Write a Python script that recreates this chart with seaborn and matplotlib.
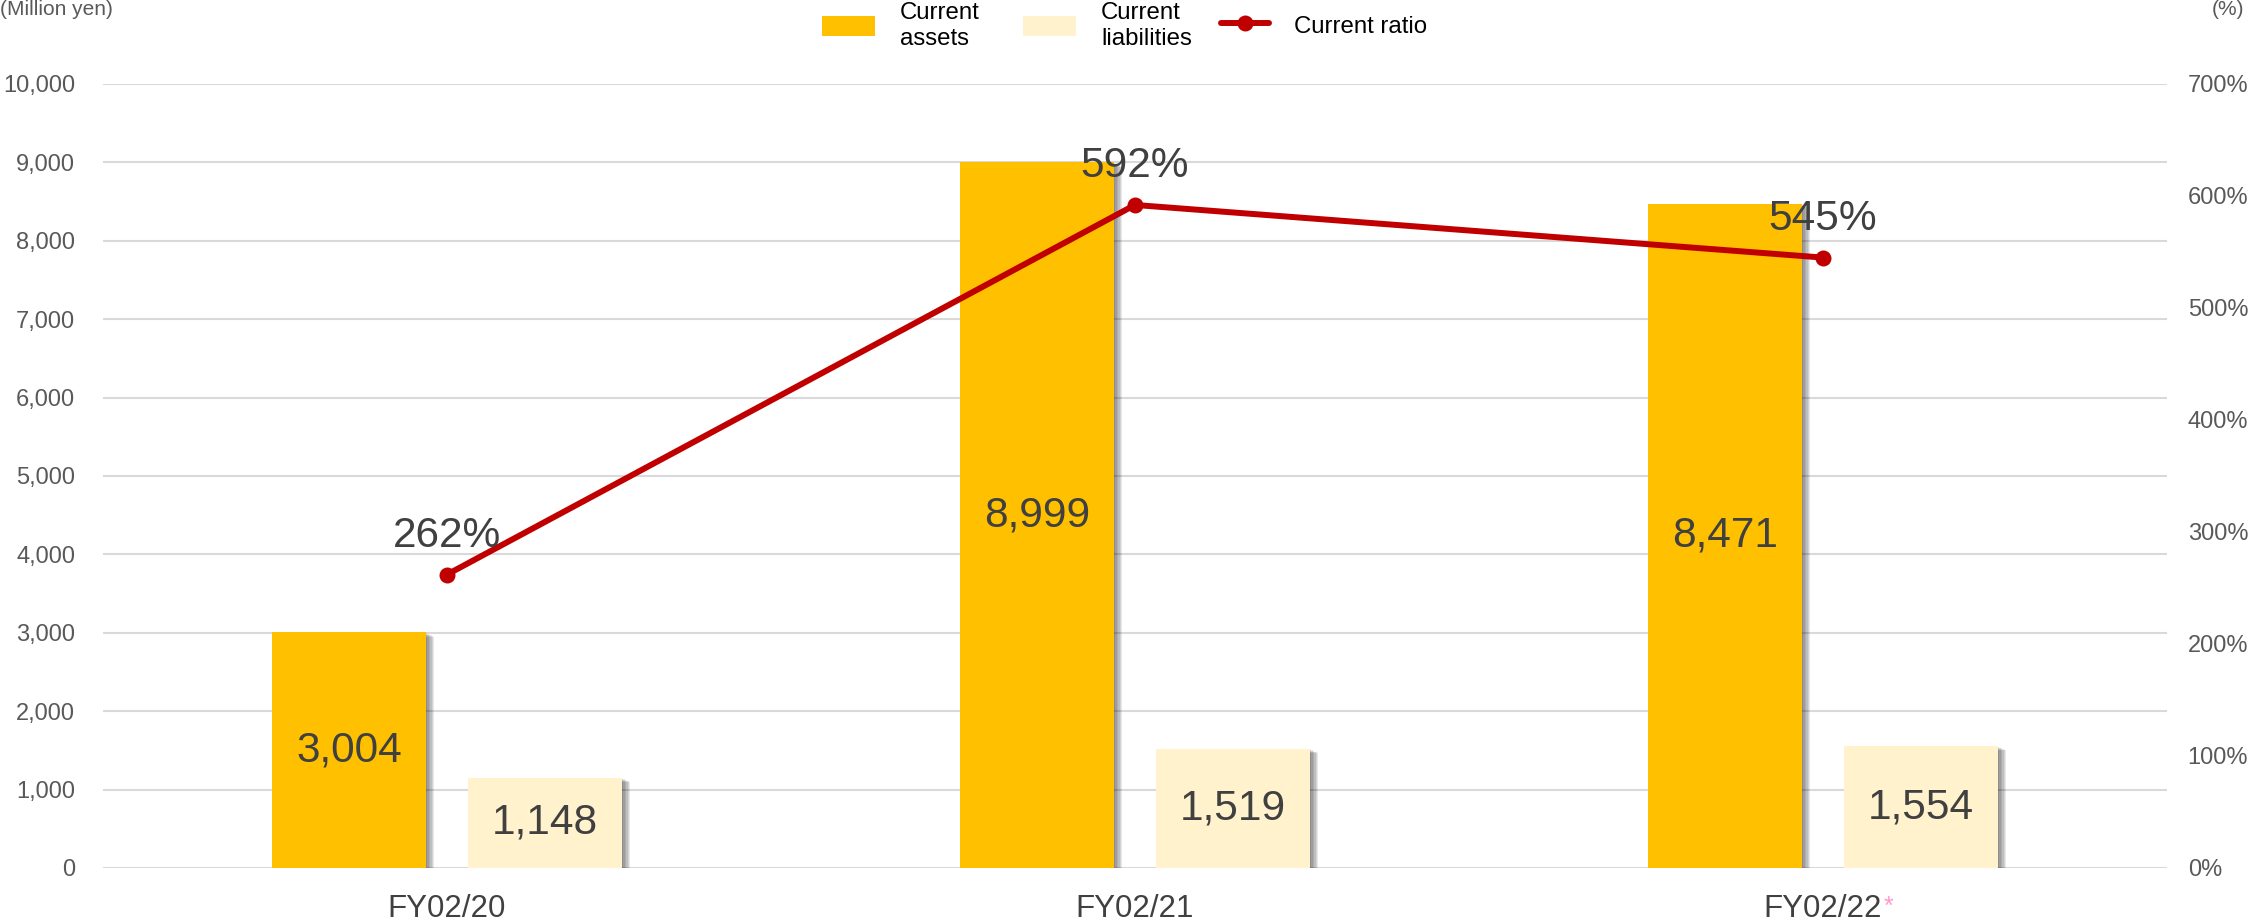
import matplotlib
matplotlib.use("Agg")
import matplotlib.pyplot as plt
import matplotlib.patheffects as pe
from matplotlib.patches import Patch
from matplotlib.lines import Line2D
from matplotlib.ticker import FuncFormatter, MultipleLocator
import numpy as np
import pandas as pd
import seaborn as sns

# Fiscal years and balance-sheet figures (million yen)
categories = ["FY02/20", "FY02/21", "FY02/22"]
current_assets = [3004, 8999, 8471]
current_liabilities = [1148, 1519, 1554]
current_ratio = [262, 592, 545]  # percent
series_names = ["Current assets", "Current liabilities"]
legend_labels = ["Current\nassets", "Current\nliabilities", "Current ratio"]

ASSET_COLOR = "#FFC000"
LIAB_COLOR = "#FFF2CC"
RATIO_COLOR = "#C00000"
TICK_COLOR = "#595959"
LABEL_COLOR = "#404040"
GRID_COLOR = "#D9D9D9"

sns.set_theme(style="white")
plt.rcParams["font.family"] = ["Liberation Sans", "DejaVu Sans"]

df = pd.DataFrame({
    "year": categories * 2,
    "series": [series_names[0]] * len(categories) + [series_names[1]] * len(categories),
    "value": current_assets + current_liabilities,
})

W, H = 2249, 922
fig = plt.figure(figsize=(W / 100, H / 100), dpi=100)
ax = fig.add_axes([0.0458, 0.0586, 0.9177, 0.8503])

sns.barplot(
    data=df, x="year", y="value", hue="series", order=categories,
    hue_order=series_names, palette=[ASSET_COLOR, LIAB_COLOR],
    width=0.57, gap=0.214, saturation=1, errorbar=None, ax=ax,
    edgecolor="none", linewidth=0,
)
if ax.get_legend() is not None:
    ax.get_legend().remove()

# soft drop shadow on the bars
shadow = [pe.SimplePatchShadow(offset=(d, -d * 0.5), shadow_rgbFace="black", alpha=0.09)
          for d in (1.0, 2.0, 3.0, 4.0, 5.0, 6.0)] + [pe.Normal()]
for patch in ax.patches:
    patch.set_path_effects(shadow)

# value labels centred in the bars
for container in ax.containers:
    ax.bar_label(container, labels=[f"{v:,.0f}" for v in container.datavalues],
                 label_type="center", fontsize=30.5, color=LABEL_COLOR)

ax.set_xlim(-0.5, len(categories) - 0.5)
ax.set_ylim(0, 10000)
ax.yaxis.set_major_locator(MultipleLocator(1000))
ax.yaxis.set_major_formatter(FuncFormatter(lambda v, _: f"{v:,.0f}"))
ax.set_axisbelow(True)
ax.grid(axis="y", color=GRID_COLOR, linewidth=1.5)
ax.grid(axis="x", visible=False)
ax.set_xlabel("")
ax.set_ylabel("")
ax.tick_params(axis="y", length=0, pad=20, labelsize=17, labelcolor=TICK_COLOR)
ax.tick_params(axis="x", length=0, pad=19, labelsize=22.5, labelcolor=LABEL_COLOR)
for s in ax.spines.values():
    s.set_visible(False)

# current ratio on the secondary axis
ax2 = ax.twinx()
x_pos = np.arange(len(categories))
sns.lineplot(x=x_pos, y=current_ratio, ax=ax2, color=RATIO_COLOR, linewidth=4.3,
             marker="o", markersize=11.5, markeredgewidth=0, legend=False)
for xp, r in zip(x_pos, current_ratio):
    ax2.annotate(f"{r}%", xy=(xp, r), xytext=(0, 20), textcoords="offset points",
                 ha="center", va="baseline", fontsize=30.5, color=LABEL_COLOR)
ax2.set_ylim(0, 700)
ax2.yaxis.set_major_locator(MultipleLocator(100))
ax2.yaxis.set_major_formatter(FuncFormatter(lambda v, _: f"{v:.0f}%"))
ax2.tick_params(axis="y", length=0, pad=15, labelsize=17, labelcolor=TICK_COLOR)
ax2.grid(False)
for s in ax2.spines.values():
    s.set_visible(False)
ax2.set_xlim(ax.get_xlim())

# footnote marker on the last fiscal year
last_label = ax.get_xticklabels()[-1]
ax.annotate("*", xy=(1, 1), xycoords=last_label, xytext=(1, 0), textcoords="offset points",
            ha="left", va="top", fontsize=18, color="#FF99CC")

# unit captions
fig.text(0.0, 1.0, "(Million yen)", ha="left", va="top",
         fontsize=15, color=TICK_COLOR)
fig.text(0.998, 1.0, "(%)", ha="right", va="top",
         fontsize=15, color=TICK_COLOR)

# legend: three entries placed side by side along the top edge
legend_handles = [
    Patch(facecolor=ASSET_COLOR, edgecolor="none"),
    Patch(facecolor=LIAB_COLOR, edgecolor="none"),
    Line2D([0], [0], color=RATIO_COLOR, linewidth=4.3, marker="o", markersize=11.5,
           markeredgewidth=0),
]
legend_left = [822, 1023, 1221]
handle_len = [2.2, 2.2, 2.0]
for h, lab, x0, hl in zip(legend_handles, legend_labels, legend_left, handle_len):
    leg = fig.legend([h], [lab], loc="center left", bbox_to_anchor=(x0 / W, 1 - 26 / H),
                     frameon=False, fontsize=17.3, handlelength=hl, handleheight=0.87,
                     handletextpad=1.05, borderpad=0, borderaxespad=0)
    for t in leg.get_texts():
        t.set_color("black")

fig.savefig("out.png", dpi=100)
